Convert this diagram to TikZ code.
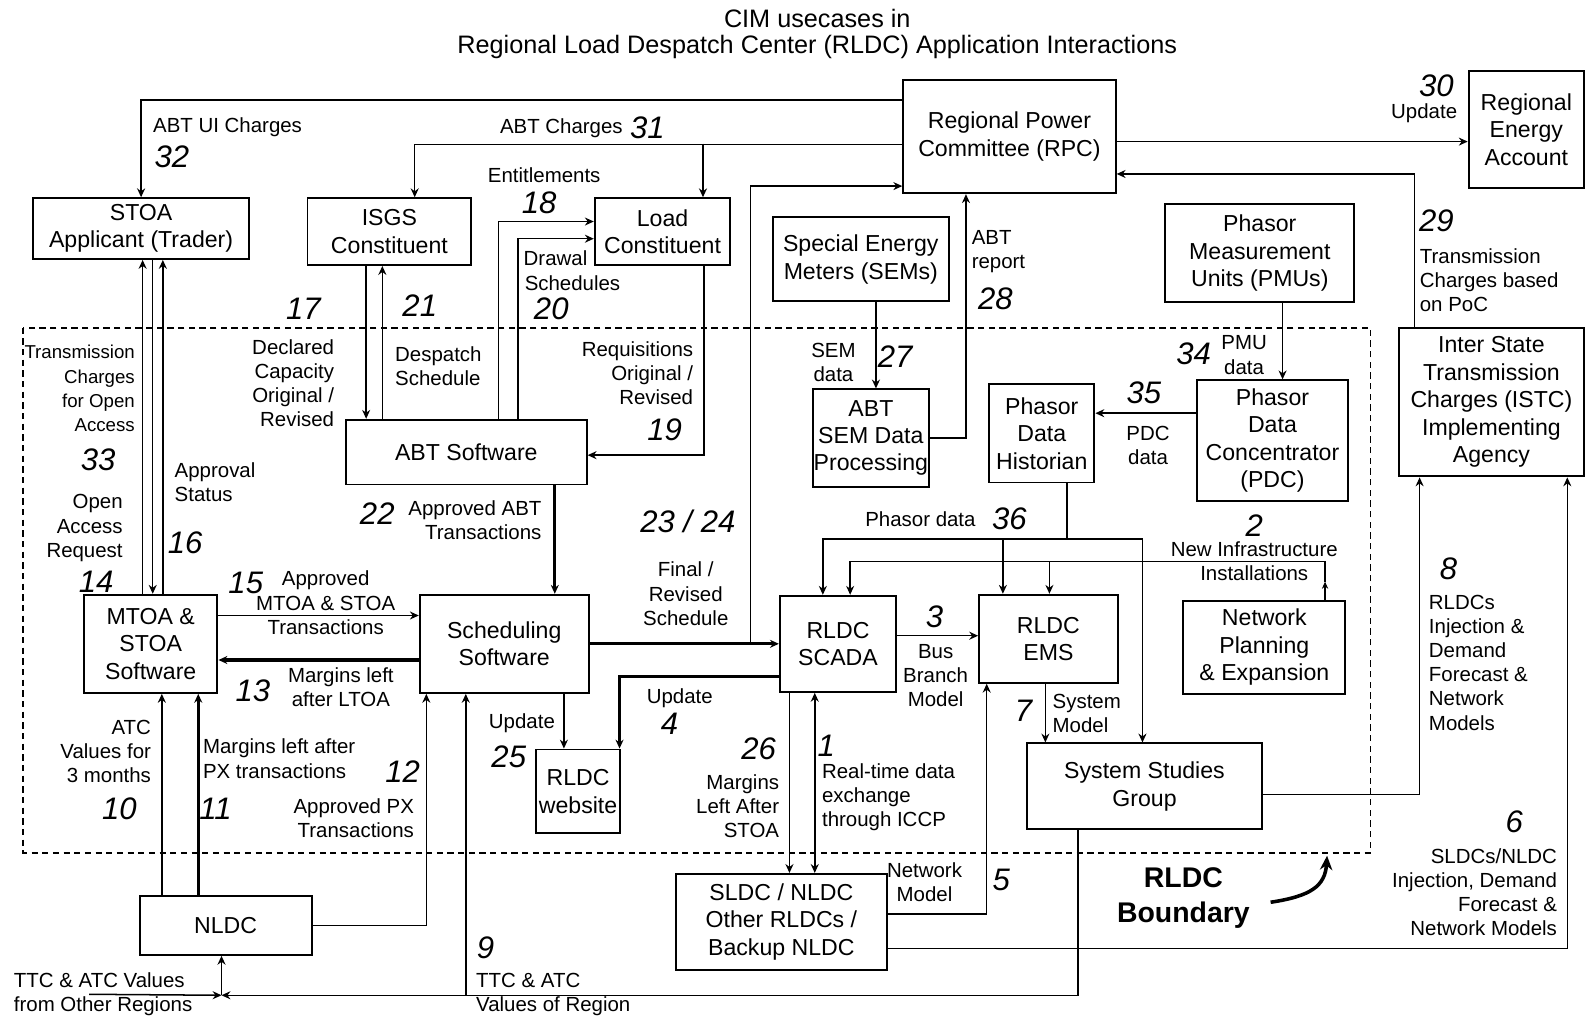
\documentclass[tikz,border=0pt]{standalone}
\usepackage{fontspec}
\setmainfont{Liberation Sans}
\usetikzlibrary{arrows.meta, calc}

\begin{document}
\begin{tikzpicture}[>={Stealth[length=5pt,width=4.5pt]}, x=0.2mm, y=-0.2mm, line width=0.85pt,
    box/.style={draw, line width=1.1pt, align=center, inner sep=0pt, font=\fontsize{13}{15.4}\selectfont},
    lbl/.style={inner sep=0pt, font=\fontsize{11.5}{13.6}\selectfont},
    num/.style={inner sep=0pt, font=\fontsize{17.5}{18}\selectfont\itshape},
    heavy/.style={line width=1.8pt}]
    \useasboundingbox (0,0) rectangle (1568,1010);

    % Title
    \node[font=\fontsize{14.2}{16}\selectfont] (title1) at (808,18) {CIM usecases in};
    \node[font=\fontsize{14.2}{16}\selectfont] (title2) at (808,46) {Regional Load Despatch Center (RLDC) Application Interactions};

    % RLDC boundary
    \draw[dash pattern=on 3.5pt off 2.5pt, line width=1pt] (23,324) rectangle (1355,843);
    \node[font=\fontsize{16}{20}\selectfont\bfseries, align=center] (bnd) at (1170,888) {RLDC\\Boundary};
    \coordinate (bndpt) at (1312,846);
    \draw[-{Stealth[length=8pt,width=7pt]}, line width=2pt] ($(bnd.east)+(14,4)$) .. controls (1296,886) and (1310,876) .. (bndpt);

    % Boxes
    \node[box, minimum width=42mm, minimum height=22.4mm] (rpc) at (998,135) {Regional Power\\Committee (RPC)};
    \node[box, minimum width=22.8mm, minimum height=23.2mm] (rea) at (1509,128) {Regional\\Energy\\Account};
    \node[box, minimum width=42.6mm, minimum height=12mm] (stoa) at (139.5,226) {STOA\\Applicant (Trader)};
    \node[box, minimum width=32.4mm, minimum height=13.2mm] (isgs) at (385,229) {ISGS\\Constituent};
    \node[box, minimum width=26.8mm, minimum height=13.2mm] (load) at (655,229) {Load\\Constituent};
    \node[box, minimum width=34.8mm, minimum height=16.6mm] (sem) at (851,256.5) {Special Energy\\Meters (SEMs)};
    \node[box, minimum width=37.4mm, minimum height=19.4mm] (pmu) at (1245.5,250.5) {Phasor\\Measurement\\Units (PMUs)};
    \node[box, minimum width=36.6mm, minimum height=29.4mm] (istc) at (1474.5,397.5) {Inter State\\Transmission\\Charges (ISTC)\\Implementing\\Agency};
    \node[box, minimum width=47.6mm, minimum height=12.8mm] (abt) at (461,447) {ABT Software};
    \node[box, minimum width=22.8mm, minimum height=19.2mm] (abtsem) at (861,433) {ABT\\SEM Data\\Processing};
    \node[box, minimum width=20.8mm, minimum height=19.4mm] (pdh) at (1030,428.5) {Phasor\\Data\\Historian};
    \node[box, minimum width=30mm, minimum height=23.8mm] (pdc) at (1258,435.5) {Phasor\\Data\\Concentrator\\(PDC)};
    \node[box, minimum width=26.4mm, minimum height=19.4mm] (mtoa) at (149,636.5) {MTOA \&\\STOA\\Software};
    \node[box, minimum width=33.4mm, minimum height=19.4mm] (sched) at (498.5,636.5) {Scheduling\\Software};
    \node[box, minimum width=23mm, minimum height=19mm] (scada) at (828.5,636.5) {RLDC\\SCADA};
    \node[box, minimum width=27.4mm, minimum height=17.4mm] (ems) at (1036.5,631.5) {RLDC\\EMS};
    \node[box, minimum width=32mm, minimum height=18.4mm] (netplan) at (1250,640) {Network\\Planning\\\& Expansion};
    \node[box, minimum width=46.6mm, minimum height=17mm] (ssg) at (1131.5,777.5) {System Studies\\Group};
    \node[box, minimum width=16.6mm, minimum height=16.6mm] (web) at (571.5,782.5) {RLDC\\website};
    \node[box, minimum width=34mm, minimum height=11.6mm] (nldc) at (223,915) {NLDC};
    \node[box, minimum width=41.8mm, minimum height=19mm] (sldc) at (772.5,911.5) {SLDC / NLDC\\Other RLDCs /\\Backup NLDC};

    % RPC charges (31, 32)
    \draw[->] ($(rpc.north west)+(0,21)$) -| (stoa.north);
    \node[lbl] (l32) at (225,126) {ABT UI Charges};
    \node[num] (n32) at (170,155) {32};
    \draw[->] ($(rpc.west)+(0,8)$) -| ($(isgs.north)+(25,0)$);
    \draw[->] ($(load.north)+(40,-53)$) -- ($(load.north)+(40,0)$);
    \node[lbl] (l31) at (555,127) {ABT Charges};
    \node[num] (n31) at (640,126) {31};

    % ABT software and constituents (17 - 21)
    \draw[->] ($(abt.north)+(32,0)$) |- ($(load.west)+(0,-10)$);
    \node[lbl] (l18) at (538,173) {Entitlements};
    \node[num] (n18) at (533,200) {18};
    \draw[->] ($(abt.north)+(51,0)$) |- ($(load.west)+(0,7)$);
    \node[lbl, anchor=west] (l20a) at (517,255) {Drawal};
    \node[lbl] (l20b) at (566,280) {Schedules};
    \node[num] (n20) at (545,305) {20};
    \draw[->] ($(load.south)+(41,0)$) |- ($(abt.east)+(0,3)$);
    \node[lbl, align=right, anchor=east] (l19) at (686,369) {Requisitions\\Original /\\Revised};
    \node[num] (n19) at (657,425) {19};
    \coordinate (a17) at ($(isgs.south)+(-23,0)$);
    \draw[->] (a17) -- (a17 |- abt.north);
    \node[num] (n17) at (300,305) {17};
    \node[lbl, align=right, anchor=east] (l17) at (331,379) {Declared\\Capacity\\Original /\\Revised};
    \coordinate (a21) at ($(isgs.south)+(-7,0)$);
    \draw[->] (a21 |- abt.north) -- (a21);
    \node[num] (n21) at (415,302) {21};
    \node[lbl, align=left, anchor=west] (l21) at (390,362) {Despatch\\Schedule};

    % STOA applicant and MTOA (14, 16, 33)
    \coordinate (a33) at ($(mtoa.north)+(-8,0)$);
    \draw[->] (a33) -- (a33 |- stoa.south);
    \coordinate (a14) at ($(mtoa.north)+(2,0)$);
    \draw[->] (a14 |- stoa.south) -- (a14);
    \coordinate (a16) at ($(mtoa.north)+(12,0)$);
    \draw[->] (a16) -- (a16 |- stoa.south);
    \node[lbl, font=\fontsize{10.5}{13.6}\selectfont, align=right, anchor=east] (l33) at (134,384) {Transmission\\Charges\\for Open\\Access};
    \node[num] (n33) at (97,455) {33};
    \node[lbl, align=right, anchor=east] (l14) at (122,522) {Open\\Access\\Request};
    \node[num] (n14) at (95,575) {14};
    \node[lbl, align=left, anchor=west] (l16) at (172,477) {Approval\\Status};
    \node[num] (n16) at (183,537) {16};

    % MTOA and scheduling (13, 15, 22)
    \draw[->] ($(mtoa.east)+(0,-28)$) -- ($(sched.west)+(0,-28)$);
    \node[num] (n15) at (243,576) {15};
    \node[lbl, align=center] (l15) at (322,596) {Approved\\MTOA \& STOA\\Transactions};
    \draw[->, heavy] ($(sched.west)+(0,16)$) -- ($(mtoa.east)+(0,16)$);
    \node[lbl, align=center] (l13) at (337,679) {Margins left\\after LTOA};
    \node[num] (n13) at (250,683) {13};
    \coordinate (a22) at ($(sched.north)+(50,0)$);
    \draw[->, heavy] (a22 |- abt.south) -- (a22);
    \node[num] (n22) at (373,508) {22};
    \node[lbl, align=right, anchor=east] (l22) at (536,514) {Approved ABT\\Transactions};

    % Schedules to SCADA and RPC (23 / 24)
    \draw[->, heavy] (sched.east) -- (scada.west);
    \coordinate (j23) at ($(scada.west)+(-28,0)$);
    \draw[->] (j23) |- ($(rpc.south west)+(0,-8)$);
    \node[num] (n23) at (680,515) {23 / 24};
    \node[lbl, align=center] (l23) at (678,587) {Final /\\Revised\\Schedule};

    % RLDC website (4, 25)
    \draw[->, heavy] ($(scada.west)+(0,32)$) -| ($(web.north)+(41,0)$);
    \node[lbl] (l4) at (672,690) {Update};
    \node[num] (n4) at (662,716) {4};
    \coordinate (a25) at ($(web.north)+(-14,0)$);
    \draw[->] (a25 |- sched.south) -- (a25);
    \node[lbl] (l25) at (516,715) {Update};
    \node[num] (n25) at (503,748) {25};

    % NLDC (9 - 12)
    \coordinate (a12) at ($(sched.south)+(-77,0)$);
    \draw[->] (nldc.east) -| (a12);
    \node[num] (n12) at (398,763) {12};
    \node[lbl, align=right, anchor=east] (l12) at (410,809) {Approved PX\\Transactions};
    \coordinate (a10) at ($(mtoa.south)+(11,0)$);
    \draw[->] (a10 |- nldc.north) -- (a10);
    \node[lbl, align=right, anchor=east] (l10) at (150,743) {ATC\\Values for\\3 months};
    \node[num] (n10) at (118,800) {10};
    \coordinate (a11) at ($(mtoa.south)+(47,0)$);
    \draw[->, heavy] (a11 |- nldc.north) -- (a11);
    \node[lbl, align=left, anchor=west] (l11) at (200,750) {Margins left after\\PX transactions};
    \node[num] (n11) at (213,800) {11};
    \coordinate (j9) at ($(nldc.south)+(-4,39)$);
    \coordinate (oth) at (88,983);
    \draw[->] ($(ssg.south)+(-66,0)$) |- (j9);
    \draw[->] (oth) -- (j9);
    \draw[->] (j9) -- (nldc.south -| j9);
    \coordinate (a9) at ($(sched.south)+(-38,0)$);
    \draw[->] (a9 |- j9) -- (a9);
    \node[lbl, align=left, anchor=west] (l0) at (13,983) {TTC \& ATC Values\\from Other Regions};
    \node[num] (n9) at (480,937) {9};
    \node[lbl, align=left, anchor=west] (l9) at (470,983) {TTC \& ATC\\Values of Region};

    % SCADA, SLDC and EMS (1, 3, 5, 26)
    \coordinate (a26) at ($(scada.south)+(-48,0)$);
    \draw[->] (a26) -- (a26 |- sldc.north);
    \node[num] (n26) at (750,740) {26};
    \node[lbl, align=right, anchor=east] (l26) at (771,797) {Margins\\Left After\\STOA};
    \coordinate (a1) at ($(scada.south)+(-23,0)$);
    \draw[<->] (a1) -- (a1 |- sldc.north);
    \node[num] (n1) at (817,737) {1};
    \node[lbl, align=left, anchor=west] (l1) at (812,788) {Real-time data\\exchange\\through ICCP};
    \coordinate (a3) at ($(scada.east)+(0,-8)$);
    \draw[->] (a3) -- (a3 -| ems.west);
    \node[num] (n3) at (924,610) {3};
    \node[lbl, align=center] (l3) at (925,668) {Bus\\Branch\\Model};
    \draw[->] ($(sldc.east)+(0,-8)$) -| ($(ems.south)+(-61,0)$);
    \node[lbl, align=center] (l5) at (914,872) {Network\\Model};
    \node[num] (n5) at (990,870) {5};

    % EMS and system studies (7)
    \coordinate (a7) at ($(ems.south)+(-3,0)$);
    \draw[->] (a7) -- (a7 |- ssg.north);
    \node[num] (n7) at (1012,703) {7};
    \node[lbl, align=left, anchor=west] (l7) at (1040,705) {System\\Model};

    % Phasor data (36) and new infrastructure (2)
    \coordinate (j36) at ($(pdh.south)+(25,55)$);
    \draw (pdh.south -| j36) -- (j36);
    \draw[->] (j36) -| ($(scada.north)+(-15,0)$);
    \draw[->] (j36) -| ($(ssg.north)+(-2,0)$);
    \coordinate (e36) at ($(ems.north)+(-45,0)$);
    \draw[->] (e36 |- j36) -- (e36);
    \node[lbl] (l36) at (910,513) {Phasor data};
    \node[num] (n36) at (998,513) {36};
    \coordinate (j2) at ($(netplan.north)+(60,-38)$);
    \draw[-{Stealth[length=4pt,width=3.5pt]}] ($(netplan.north)+(60,0)$) -- ($(j2)+(0,20)$);
    \draw ($(j2)+(0,20)$) -- (j2);
    \draw[->] (j2) -| ($(scada.north)+(12,0)$);
    \coordinate (e2) at ($(ems.north)+(1,0)$);
    \draw[->] (e2 |- j2) -- (e2);
    \node[num] (n2) at (1240,520) {2};
    \node[lbl, align=center] (l2) at (1240,555) {New Infrastructure\\Installations};

    % Phasor measurement (34, 35)
    \coordinate (a34) at ($(pdc.north)+(10,0)$);
    \draw[->] (a34 |- pmu.south) -- (a34);
    \node[num] (n34) at (1180,350) {34};
    \node[lbl, align=center] (l34) at (1230,351) {PMU\\data};
    \coordinate (a35) at ($(pdc.west)+(0,-27)$);
    \draw[->] (a35) -- (a35 -| pdh.east);
    \node[num] (n35) at (1131,388) {35};
    \node[lbl, align=center] (l35) at (1135,440) {PDC\\data};

    % Energy meters (27, 28)
    \coordinate (a27) at ($(abtsem.north)+(5,0)$);
    \draw[->] (a27 |- sem.south) -- (a27);
    \node[lbl, align=center] (l27) at (824,358) {SEM\\data};
    \node[num] (n27) at (885,353) {27};
    \draw[->] (abtsem.east) -| ($(rpc.south)+(-43,0)$);
    \node[lbl, align=left, anchor=west] (l28) at (960,249) {ABT\\report};
    \node[num] (n28) at (984,295) {28};

    % RPC, energy account and ISTC (6, 8, 29, 30)
    \coordinate (a30) at ($(rpc.east)+(0,5)$);
    \draw[->] (a30) -- (a30 -| rea.west);
    \node[num] (n30) at (1420,85) {30};
    \node[lbl] (l30) at (1408,112) {Update};
    \draw[->] ($(istc.north)+(-76,0)$) |- ($(rpc.east)+(0,37)$);
    \node[num] (n29) at (1420,218) {29};
    \node[lbl, align=left, anchor=west] (l29) at (1403,277) {Transmission\\Charges based\\on PoC};
    \draw[->] ($(ssg.east)+(0,8)$) -| ($(istc.south)+(-71,0)$);
    \node[num] (n8) at (1432,562) {8};
    \node[lbl, align=left, anchor=west] (l8) at (1412,655) {RLDCs\\Injection \&\\Demand\\Forecast \&\\Network\\Models};
    \draw[->] ($(sldc.east)+(0,26)$) -| ($(istc.south)+(75,0)$);
    \node[num] (n6) at (1497,812) {6};
    \node[lbl, align=right, anchor=east] (l6) at (1540,882) {SLDCs/NLDC\\Injection, Demand\\Forecast \&\\Network Models};
\end{tikzpicture}
\end{document}
